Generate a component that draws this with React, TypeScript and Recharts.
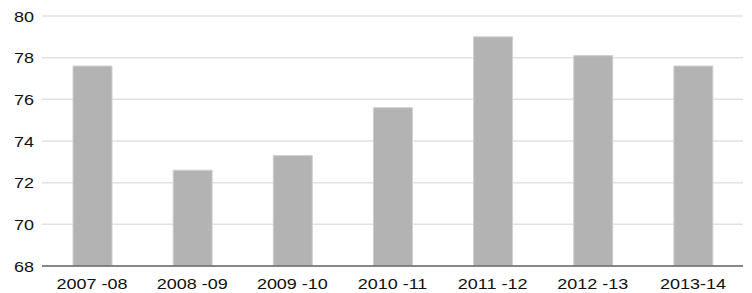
import { BarChart, Bar, XAxis, YAxis, CartesianGrid } from "recharts";

const years = ["2007 -08", "2008 -09", "2009 -10", "2010 -11", "2011 -12", "2012 -13", "2013-14"];
const values = [77.6, 72.6, 73.3, 75.6, 79.0, 78.1, 77.6];
const yTicks = [68, 70, 72, 74, 76, 78, 80];

const data = years.map((year, i) => ({ year, value: values[i] }));

const FONT = "'Liberation Sans', Arial, Helvetica, sans-serif";

// the source text looks stretched sideways, so scale it a bit
const XTick = ({ x, y, payload }: any) => (
  <g transform={`translate(${x},${y}) scale(1.2,1)`}>
    <text x={0} y={0} dy={13} textAnchor="middle" fontSize={15} fill="#111" fontFamily={FONT}>
      {payload.value}
    </text>
  </g>
);

const YTick = ({ x, y, payload }: any) => (
  <g transform={`translate(${x},${y}) scale(1.2,1)`}>
    <text x={0} y={0} dy={5.5} textAnchor="end" fontSize={15} fill="#111" fontFamily={FONT}>
      {payload.value}
    </text>
  </g>
);

export default function App() {
  return (
    <div style={{ position: "absolute", left: 0, top: 0, background: "#fff" }}>
      <BarChart
        width={752}
        height={293}
        data={data}
        margin={{ top: 16, right: 9, bottom: 0, left: 0 }}
      >
        <CartesianGrid vertical={false} stroke="#e2e2e2" strokeWidth={1.5} />
        <XAxis
          dataKey="year"
          tick={<XTick />}
          tickLine={false}
          axisLine={{ stroke: "#666", strokeWidth: 1.5 }}
          height={27}
          tickSize={0}
          tickMargin={10}
          interval={0}
        />
        <YAxis
          domain={[68, 80]}
          ticks={yTicks}
          tick={<YTick />}
          tickLine={false}
          axisLine={false}
          width={42}
          tickSize={0}
          tickMargin={8}
          allowDataOverflow
        />
        <Bar dataKey="value" fill="#b3b3b3" stroke="#d0d0d0" strokeWidth={1} barSize={39} isAnimationActive={false} />
      </BarChart>
    </div>
  );
}
